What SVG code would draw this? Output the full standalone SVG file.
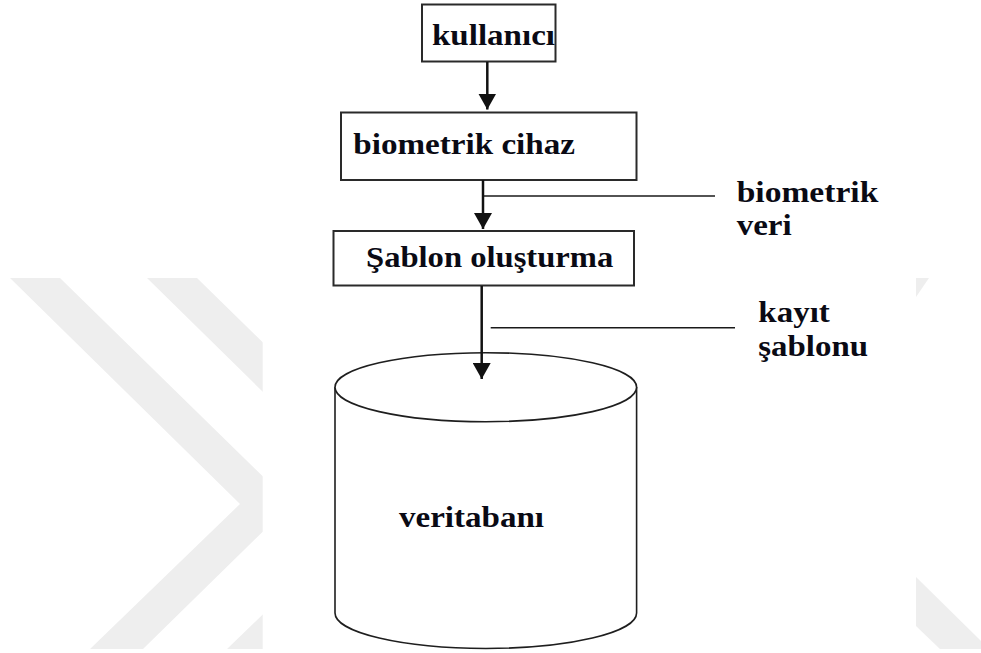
<svg xmlns="http://www.w3.org/2000/svg" width="981" height="653" viewBox="0 0 981 653">
  <style>
    .box { fill: #ffffff; stroke: #2a2a2a; stroke-width: 2; }
    .cyl { fill: #ffffff; stroke: #1e1e1e; stroke-width: 1.6; }
    .txt { font-family: "Liberation Serif", "Times New Roman", serif; font-weight: bold; font-size: 30px; fill: #0a0a14; }
    .arrow { stroke: #111111; stroke-width: 2.5; fill: none; }
    .leader { stroke: #1a1a1a; stroke-width: 1.6; fill: none; }
    .wm { fill: #eeeeee; }
  </style>
  <defs>
    <marker id="ah" viewBox="0 0 16 18" refX="16" refY="9" markerWidth="16" markerHeight="18" markerUnits="userSpaceOnUse" orient="auto">
      <path d="M0,0 L16,9 L0,18 Z" fill="#111111"/>
    </marker>
    <clipPath id="wmLeft"><rect x="0" y="0" width="262.7" height="653"/></clipPath>
    <clipPath id="wmRight"><rect x="916" y="0" width="65" height="653"/></clipPath>
  </defs>
  <rect x="0" y="0" width="981" height="653" fill="#ffffff"/>

  <g id="watermark">
    <g clip-path="url(#wmLeft)">
      <polygon class="wm" points="10,278 60,278 291,504 143,649 90,649 240,504"/>
      <polygon class="wm" points="147,278 197,278 428,504 280,649 227,649 377,504"/>
    </g>
    <g clip-path="url(#wmRight)">
      <polygon class="wm" points="916,278 929,278 916,297"/>
      <polygon class="wm" points="916,577 981,641 981,649 940,649 916,626"/>
    </g>
  </g>

  <g id="node-kullanici">
    <rect class="box" x="422" y="4.5" width="133.5" height="57"/>
    <text class="txt" x="432" y="45" textLength="123" lengthAdjust="spacingAndGlyphs">kullanıcı</text>
  </g>

  <g id="node-biometrik-cihaz">
    <rect class="box" x="341" y="112.5" width="295.5" height="67.5"/>
    <text class="txt" x="353.3" y="154.3" textLength="221.7" lengthAdjust="spacingAndGlyphs">biometrik cihaz</text>
  </g>

  <g id="node-sablon-olusturma">
    <rect class="box" x="333.5" y="231" width="300.5" height="54.5"/>
    <text class="txt" x="366" y="266.7" textLength="247.3" lengthAdjust="spacingAndGlyphs">Şablon oluşturma</text>
  </g>

  <g id="node-veritabani">
    <path class="cyl" d="M335,387 L335,613 A150.8,35.5 0 0 0 636.6,613 L636.6,387"/>
    <ellipse class="cyl" cx="485.8" cy="387.2" rx="150.8" ry="34.5"/>
    <text class="txt" x="399" y="526.7" textLength="145" lengthAdjust="spacingAndGlyphs">veritabanı</text>
  </g>

  <g id="connectors">
    <line class="arrow" x1="487.3" y1="62" x2="487.3" y2="109.5" marker-end="url(#ah)"/>
    <line class="arrow" x1="483" y1="180" x2="483" y2="229" marker-end="url(#ah)"/>
    <line class="arrow" x1="481.7" y1="286" x2="481.7" y2="379" marker-end="url(#ah)"/>
    <line class="leader" x1="484" y1="196" x2="715" y2="196"/>
    <line class="leader" x1="490.7" y1="327.7" x2="735" y2="327.7"/>
  </g>

  <g id="labels">
    <text class="txt" x="736.7" y="201.7" textLength="141.6" lengthAdjust="spacingAndGlyphs">biometrik</text>
    <text class="txt" x="736.7" y="235" textLength="55" lengthAdjust="spacingAndGlyphs">veri</text>
    <text class="txt" x="758.3" y="321.7" textLength="71.5" lengthAdjust="spacingAndGlyphs">kayıt</text>
    <text class="txt" x="758.3" y="356" textLength="109.7" lengthAdjust="spacingAndGlyphs">şablonu</text>
  </g>
</svg>
